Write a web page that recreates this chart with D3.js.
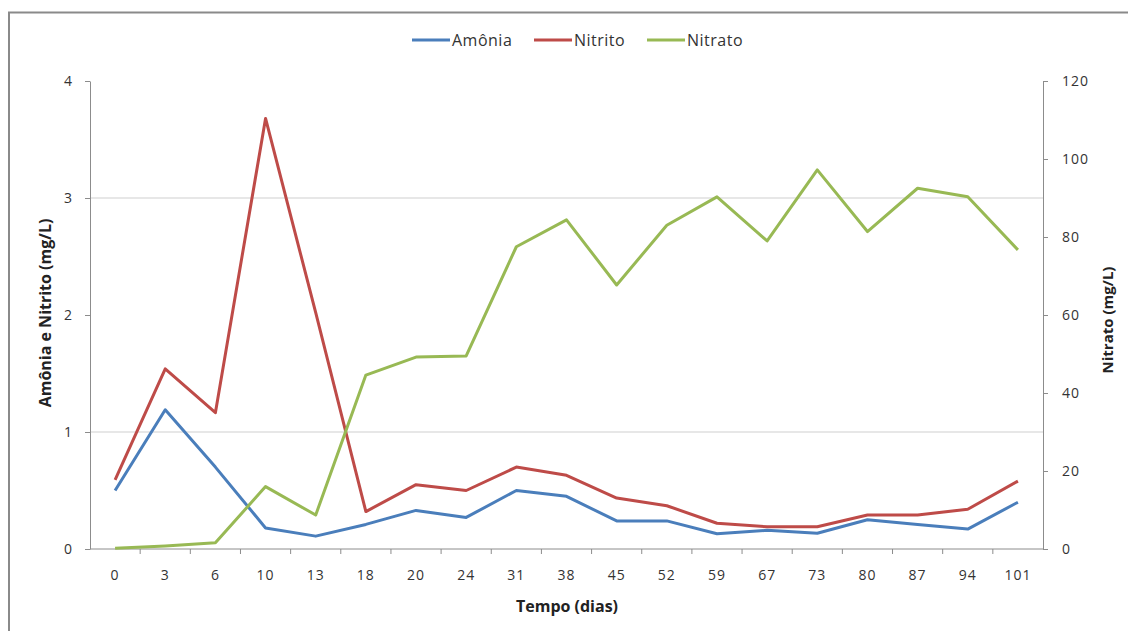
<!DOCTYPE html>
<html><head><meta charset="utf-8">
<script src="https://cdn.jsdelivr.net/npm/d3@7"></script>
<style>
body{margin:0;background:#fff;}
text{font-family:"Open Sans","DejaVu Sans",sans-serif;}
</style></head>
<body><svg id="c" width="1128" height="631"></svg>
<script>
const categories = ["0","3","6","10","13","18","20","24","31","38","45","52","59","67","73","80","87","94","101"];
const amonia  = [0.50,1.19,0.70,0.18,0.11,0.21,0.33,0.27,0.50,0.45,0.24,0.24,0.13,0.16,0.135,0.25,0.21,0.17,0.40];
const nitrito = [0.59,1.54,1.165,3.68,2.02,0.32,0.55,0.50,0.70,0.63,0.435,0.37,0.22,0.19,0.19,0.29,0.29,0.34,0.58];
const nitrato = [0.2,0.8,1.6,16,8.7,44.6,49.2,49.5,77.5,84.4,67.7,83,90.3,79,97.2,81.4,92.5,90.3,76.7];
const leftTicks = [0,1,2,3,4];
const rightTicks = [0,20,40,60,80,100,120];
const gridTicks = [1,3];

const svg = d3.select("#c");
const L=90,R=1043,T=81,B=549;
const axisColor="#8c8c8c", textColor="#333";

// outer border
svg.append("path").attr("d","M9,631 V12.5 H1128").attr("fill","none").attr("stroke","#8a8a8a").attr("stroke-width",2);

const x = d3.scaleBand().domain(categories).range([L,R]);
const yL = d3.scaleLinear().domain([0,4]).range([B,T]);
const yR = d3.scaleLinear().domain([0,120]).range([B,T]);

// grid
svg.append("g").selectAll("line").data(gridTicks).join("line")
  .attr("x1",L).attr("x2",R).attr("y1",d=>yL(d)).attr("y2",d=>yL(d))
  .attr("stroke","#d0d0d0").attr("stroke-width",1.2);

function styleAxis(g){
  g.selectAll("path,line").attr("stroke",axisColor);
  g.selectAll("text").attr("fill",textColor).style("font-size","14px").style("letter-spacing","1px");
}
// left axis
const ga = svg.append("g").attr("transform",`translate(${L},0)`)
  .call(d3.axisLeft(yL).tickValues(leftTicks).tickFormat(d3.format("d")).tickSize(5).tickSizeOuter(0).tickPadding(12));
styleAxis(ga);
// right axis
const gr = svg.append("g").attr("transform",`translate(${R},0)`)
  .call(d3.axisRight(yR).tickValues(rightTicks).tickFormat(d3.format("d")).tickSize(5).tickSizeOuter(0).tickPadding(14));
styleAxis(gr);
// x axis: ticks at band boundaries
const gx = svg.append("g").attr("transform",`translate(0,${B})`)
  .call(d3.axisBottom(x).tickSize(0).tickPadding(21));
styleAxis(gx);
gx.select(".domain").attr("d",`M${L},0H${R}`);
svg.append("g").selectAll("line").data(categories.slice(1)).join("line")
  .attr("x1",d=>x(d)).attr("x2",d=>x(d)).attr("y1",B).attr("y2",B+5).attr("stroke",axisColor);

// lines
const cx = d=>x(d)+x.bandwidth()/2;
const series = [
  {name:"Amônia",vals:amonia,color:"#4a7ebb",y:yL},
  {name:"Nitrito",vals:nitrito,color:"#be4b48",y:yL},
  {name:"Nitrato",vals:nitrato,color:"#98b954",y:yR}
];
series.forEach(s=>{
  const line = d3.line().x((d,i)=>cx(categories[i])).y(d=>s.y(d));
  svg.append("path").datum(s.vals).attr("d",line).attr("fill","none")
    .attr("stroke",s.color).attr("stroke-width",3).attr("stroke-linejoin","round");
});

// legend
const legX=[412,534,647];
series.forEach((s,i)=>{
  svg.append("line").attr("x1",legX[i]).attr("x2",legX[i]+38).attr("y1",40).attr("y2",40)
    .attr("stroke",s.color).attr("stroke-width",3);
  svg.append("text").attr("x",legX[i]+40).attr("y",46).text(s.name)
    .attr("fill",textColor).style("font-size","16px").style("letter-spacing","0.5px");
});

// axis titles
svg.append("text").attr("transform","translate(51,313) rotate(-90)").attr("text-anchor","middle")
  .style("font-size","16px").style("font-weight","bold").attr("fill","#222").text("Amônia e Nitrito (mg/L)");
svg.append("text").attr("transform","translate(1113,320) rotate(-90)").attr("text-anchor","middle")
  .style("font-size","15px").style("font-weight","bold").attr("fill","#222").text("Nitrato (mg/L)");
svg.append("text").attr("x",567).attr("y",612).attr("text-anchor","middle")
  .style("font-size","16px").style("font-weight","bold").attr("fill","#222").text("Tempo (dias)");
</script></body></html>
